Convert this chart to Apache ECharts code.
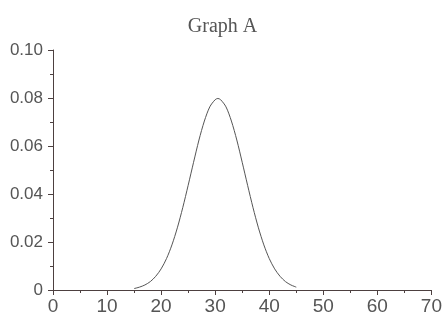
<!DOCTYPE html>
<html>
<head>
<meta charset="utf-8">
<title>Graph A</title>
<script src="https://cdn.jsdelivr.net/npm/echarts@6/dist/echarts.min.js"></script>
<style>
html, body { margin: 0; padding: 0; background: #fff; }
#chart { width: 445px; height: 323px; }
</style>
</head>
<body>
<div id="chart"></div>
<script>
// values
var xValues = [15, 16, 17, 18, 19, 20, 21, 22, 23, 24, 25, 26, 27, 28, 29, 30, 30.5,
	31, 32, 33, 34, 35, 36, 37, 38, 39, 40, 41, 42, 43, 44, 45];
var yValues = [0.0006, 0.0012, 0.0021, 0.0035, 0.0057, 0.0088, 0.0131, 0.0188, 0.0259, 0.0343,
	0.0436, 0.0532, 0.0625, 0.0704, 0.0763, 0.0793, 0.0798, 0.0793, 0.0763, 0.0704, 0.0625,
	0.0532, 0.0436, 0.0343, 0.0259, 0.0188, 0.0131, 0.0088, 0.0057, 0.0035, 0.0021, 0.0012];
var xTicks = [0, 10, 20, 30, 40, 50, 60, 70];
var yTicks = [0, 0.02, 0.04, 0.06, 0.08, 0.10];

var axisColor = '#4d4040';
var textColor = '#555555';
var labelFont = '"Liberation Sans", Arial, sans-serif';

var points = [];
for (var i = 0; i < xValues.length; i++) {
	points.push([xValues[i], yValues[i]]);
}

var myChart = echarts.init(document.getElementById('chart'), null, { renderer: 'canvas' });
var option = {
	backgroundColor: '#ffffff',
	animation: false,
	title: {
		text: 'Graph A',
		left: 'center',
		top: 12,
		textStyle: {
			fontFamily: '"Liberation Serif", "DejaVu Serif", serif',
			fontWeight: 'normal',
			fontSize: 20,
			color: textColor
		}
	},
	grid: {
		left: 53,
		right: 9,
		top: 50,
		bottom: 33,
		containLabel: false
	},
	xAxis: {
		type: 'value',
		min: xTicks[0],
		max: xTicks[xTicks.length - 1],
		interval: 10,
		axisLine: { show: true, lineStyle: { color: axisColor, width: 1 } },
		axisTick: { show: true, inside: false, length: 5, lineStyle: { color: axisColor } },
		minorTick: { show: true, splitNumber: 2, length: 3, lineStyle: { color: axisColor } },
		splitLine: { show: false },
		axisLabel: {
			margin: 7,
			fontFamily: labelFont,
			fontSize: 19,
			color: textColor,
			formatter: function(v) {
				return String(v);
			}
		}
	},
	yAxis: {
		type: 'value',
		min: yTicks[0],
		max: yTicks[yTicks.length - 1],
		interval: 0.02,
		axisLine: { show: true, lineStyle: { color: axisColor, width: 1 } },
		axisTick: { show: true, inside: false, length: 5, lineStyle: { color: axisColor } },
		minorTick: { show: true, splitNumber: 2, length: 3, lineStyle: { color: axisColor } },
		splitLine: { show: false },
		axisLabel: {
			margin: 10,
			fontFamily: labelFont,
			fontSize: 17,
			color: textColor,
			formatter: function(v) {
				if (v == 0) {
					return '0';
				}
				return v.toFixed(2);
			}
		}
	},
	series: [{
		type: 'line',
		data: points,
		smooth: 0.3,
		symbol: 'none',
		lineStyle: { color: '#555555', width: 1 }
	}]
};
myChart.setOption(option);
</script>
</body>
</html>
